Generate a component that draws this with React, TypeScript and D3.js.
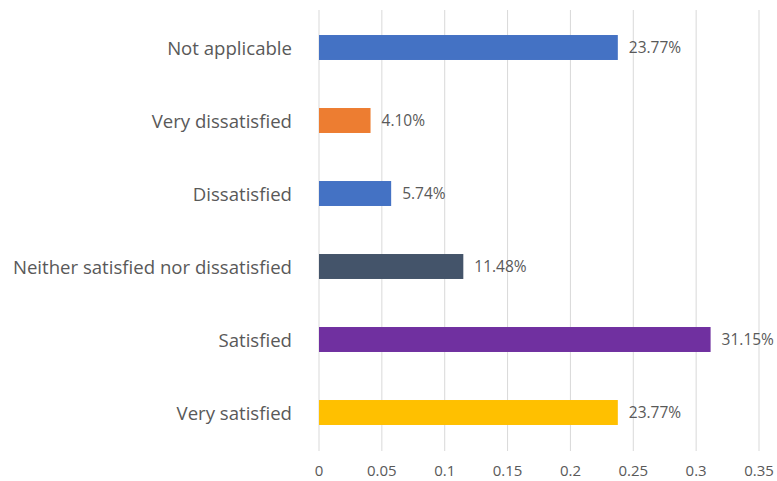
import React from "react";
import * as d3 from "d3";

const categories = [
  "Not applicable",
  "Very dissatisfied",
  "Dissatisfied",
  "Neither satisfied nor dissatisfied",
  "Satisfied",
  "Very satisfied",
];
const values = [0.2377, 0.041, 0.0574, 0.1148, 0.3115, 0.2377];
const colors = ["#4472C4", "#ED7D31", "#4472C4", "#44546A", "#7030A0", "#FFC000"];
const ticks = [0, 0.05, 0.1, 0.15, 0.2, 0.25, 0.3, 0.35];

const W = 777;
const H = 481;
const FONT = "'Open Sans', sans-serif";

export default function App() {
  const x = d3.scaleLinear().domain([0, 0.35]).range([319, 759]);
  const y = d3
    .scaleBand<string>()
    .domain(categories)
    .range([11, 449])
    .paddingInner(0.658)
    .paddingOuter(0.329);
  const grid = "#D9D9D9";
  const text = "#595959";
  return (
    <svg
      width={W}
      height={H}
      style={{ position: "absolute", left: 0, top: 0, background: "#fff" }}
      fontFamily={FONT}
    >
      {ticks.map((t) => (
        <g key={t}>
          <line x1={x(t)} x2={x(t)} y1={10} y2={451} stroke={grid} strokeWidth={1} />
          <text x={x(t)} y={476} textAnchor="middle" fontSize={15} fill={text}>
            {d3.format("")(t)}
          </text>
        </g>
      ))}
      {categories.map((c, i) => {
        const yy = y(c)!;
        const bw = y.bandwidth();
        return (
          <g key={c}>
            <rect x={x(0)} y={yy} width={x(values[i]) - x(0)} height={bw} fill={colors[i]} />
            <text
              x={292}
              y={yy + bw / 2}
              dy="0.42em"
              textAnchor="end"
              fontSize={18.6}
              fill={text}
            >
              {c}
            </text>
            <text x={x(values[i]) + 11} y={yy + bw / 2} dy="0.35em" fontSize={15.5} fill={text}>
              {d3.format(".2%")(values[i])}
            </text>
          </g>
        );
      })}
    </svg>
  );
}
